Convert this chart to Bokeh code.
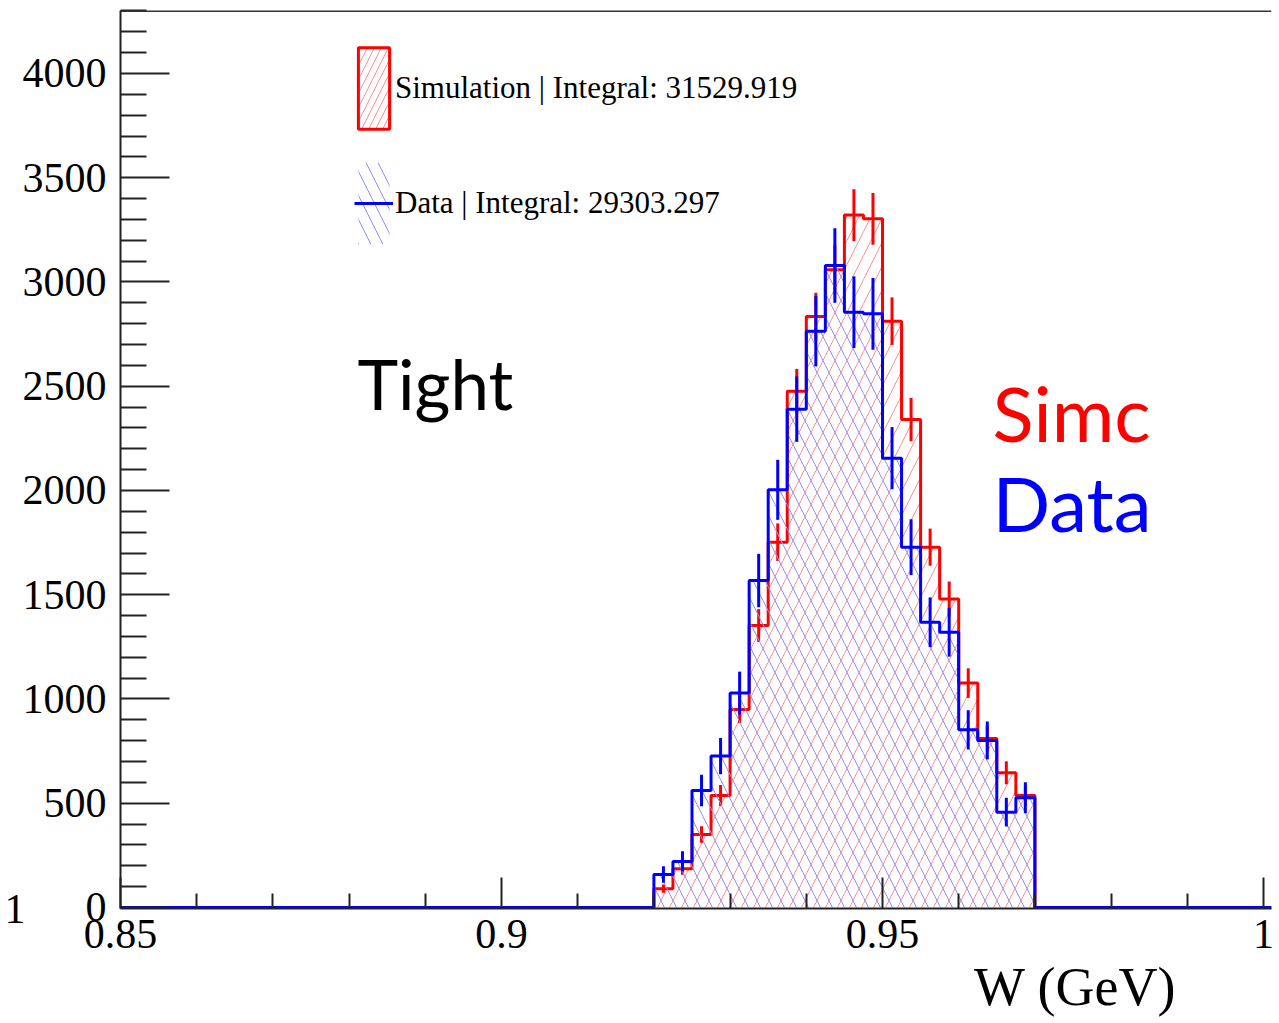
from bokeh.plotting import figure
from bokeh.models import Label, Legend, LegendItem, FixedTicker, Span, Title, LinearAxis
from bokeh.embed import file_html
from bokeh.resources import INLINE

# ---------------- data ----------------
bin_edges = [0.92, 0.9225, 0.925, 0.9275, 0.93, 0.9325, 0.935, 0.9375, 0.94, 0.9425,
             0.945, 0.9475, 0.95, 0.9525, 0.955, 0.9575, 0.96, 0.9625, 0.965, 0.9675, 0.97]
sim_counts = [90, 186, 350, 537, 950, 1352, 1752, 2476, 2834, 3058,
              3321, 3303, 2812, 2340, 1728, 1480, 1076, 810, 646, 537]
sim_errors = [20, 29, 40, 50, 66, 79, 90, 107, 114, 119,
              124, 124, 114, 104, 89, 83, 71, 61, 55, 50]
data_counts = [158, 221, 561, 726, 1028, 1568, 2003, 2390, 2764, 3079,
               2855, 2847, 2155, 1728, 1368, 1320, 852, 801, 457, 526]
data_errors = [40, 48, 76, 87, 103, 128, 144, 157, 169, 179,
               172, 172, 149, 134, 119, 117, 94, 91, 69, 74]

x_ticks = [0.85, 0.9, 0.95, 1.0]
x_tick_labels = ["0.85", "0.9", "0.95", "1"]
x_minor_ticks = [0.86, 0.87, 0.88, 0.89, 0.91, 0.92, 0.93, 0.94, 0.96, 0.97, 0.98, 0.99]
y_ticks = [0, 500, 1000, 1500, 2000, 2500, 3000, 3500, 4000]
y_minor_ticks = [100, 200, 300, 400, 600, 700, 800, 900, 1100, 1200, 1300, 1400,
                 1600, 1700, 1800, 1900, 2100, 2200, 2300, 2400, 2600, 2700, 2800, 2900,
                 3100, 3200, 3300, 3400, 3600, 3700, 3800, 3900, 4100, 4200, 4300]

sim_label = "Simulation | Integral: 31529.919"
data_label = "Data | Integral: 29303.297"
x_title = "W (GeV)"
neighbour_label = "1"

X_START, X_END = 0.85, 1.00105
Y_START, Y_END = -5, 4302

RED = "#ff0000"
BLUE = "#0000ff"
RED_HATCH = "#ff9090"
BLUE_HATCH = "#9090ff"
SERIF = "Liberation Serif"
SANS = "Lato"

# ---------------- figure ----------------
p = figure(width=1279, height=1023, x_range=(X_START, X_END), y_range=(Y_START, Y_END),
           output_backend="svg", toolbar_location=None,
           min_border_left=120, min_border_right=8, min_border_top=10, min_border_bottom=115)
p.outline_line_color = None
p.xgrid.grid_line_color = None
p.ygrid.grid_line_color = None
p.background_fill_color = "white"
p.border_fill_color = "white"

lefts = bin_edges[:-1]
rights = bin_edges[1:]
centers = [(a + b) / 2 for a, b in zip(lefts, rights)]
zeros = [0] * len(lefts)

step_x = [X_START] + bin_edges + [X_END]
HS = 24

# simulation histogram
p.quad(left=lefts, right=rights, top=sim_counts, bottom=zeros, fill_color=None, line_color=None,
       hatch_pattern="/", hatch_color=RED_HATCH, hatch_scale=HS, hatch_weight=1)
p.step(x=step_x, y=[0] + sim_counts + [0, 0], mode="after", line_color=RED, line_width=3)
p.segment(x0=centers, y0=[c - e for c, e in zip(sim_counts, sim_errors)],
          x1=centers, y1=[c + e for c, e in zip(sim_counts, sim_errors)],
          line_color=RED, line_width=3)

# data histogram
data_fill = p.quad(left=lefts, right=rights, top=data_counts, bottom=zeros, fill_color=None,
                   line_color=None, hatch_pattern="\\", hatch_color=BLUE_HATCH,
                   hatch_scale=HS, hatch_weight=1)
data_step = p.step(x=step_x, y=[0] + data_counts + [0, 0], mode="after",
                   line_color=BLUE, line_width=3)
p.segment(x0=centers, y0=[c - e for c, e in zip(data_counts, data_errors)],
          x1=centers, y1=[c + e for c, e in zip(data_counts, data_errors)],
          line_color=BLUE, line_width=3)

# legend proxy for simulation (box with red outline + hatch), hidden in the plot
sim_proxy = p.quad(left=lefts, right=rights, top=sim_counts, bottom=zeros, fill_color=None,
                   line_color=RED, line_width=3, hatch_pattern="/", hatch_color=RED_HATCH,
                   hatch_scale=14, hatch_weight=1, visible=False)

legend = Legend(items=[LegendItem(label=sim_label, renderers=[sim_proxy]),
                       LegendItem(label=data_label, renderers=[data_fill, data_step])],
                location=(234, 654), glyph_width=39, glyph_height=102, label_height=102,
                label_text_font=SERIF, label_text_font_size="31px", label_text_color="black",
                spacing=13, padding=0, margin=0, label_standoff=2,
                border_line_color=None, background_fill_alpha=0, inactive_fill_alpha=0)
p.add_layout(legend)

# top frame border
p.add_layout(Span(location=Y_END, dimension="width", line_color="#333333", line_width=3))

# axes
for ax in (p.xaxis, p.yaxis):
    ax.axis_line_color = "#222222"
    ax.axis_line_width = 2
    ax.major_tick_line_color = "#222222"
    ax.minor_tick_line_color = "#222222"
    ax.major_tick_line_width = 2
    ax.minor_tick_line_width = 2
    ax.major_tick_out = 0
    ax.minor_tick_out = 0
    ax.major_label_text_font = SERIF
    ax.major_label_text_font_size = "42px"
    ax.major_label_text_color = "black"

p.xaxis.ticker = FixedTicker(ticks=x_ticks, minor_ticks=x_minor_ticks)
p.xaxis.major_label_overrides = dict(zip(x_ticks, x_tick_labels))
p.xaxis.major_tick_in = 31
p.xaxis.minor_tick_in = 15
p.xaxis.major_label_standoff = 11

p.yaxis.ticker = FixedTicker(ticks=y_ticks, minor_ticks=y_minor_ticks)
p.yaxis.major_tick_in = 49
p.yaxis.minor_tick_in = 26
p.yaxis.major_label_standoff = 14

# fragment of the neighbouring pad at the far left: a bare outer axis carrying its "1"
frag_axis = LinearAxis(ticker=FixedTicker(ticks=[Y_START], minor_ticks=[]),
                       major_label_overrides={Y_START: neighbour_label},
                       axis_line_color=None, major_tick_line_color=None,
                       minor_tick_line_color=None, major_tick_in=0, major_tick_out=0,
                       major_label_standoff=-6, major_label_text_font=SERIF,
                       major_label_text_font_size="42px", major_label_text_color="black")
p.add_layout(frag_axis, "left")

# x-axis title, right aligned as in ROOT
p.add_layout(Title(text=x_title, align="right", offset=95, standoff=8,
                   text_font=SERIF, text_font_size="54px", text_font_style="normal",
                   text_color="black"), "below")

# annotations inside the pad
p.add_layout(Label(x=0.8811, y=2514, text="Tight", text_align="left", text_baseline="alphabetic",
                   text_font=SANS, text_font_size="69px", text_color="black"))
p.add_layout(Label(x=0.96444, y=2374, text="Simc", text_align="left", text_baseline="alphabetic",
                   text_font=SANS, text_font_size="76px", text_color=RED))
p.add_layout(Label(x=0.96444, y=1943, text="Data", text_align="left", text_baseline="alphabetic",
                   text_font=SANS, text_font_size="76px", text_color=BLUE))

open("out.html", "w").write(file_html(p, INLINE))
